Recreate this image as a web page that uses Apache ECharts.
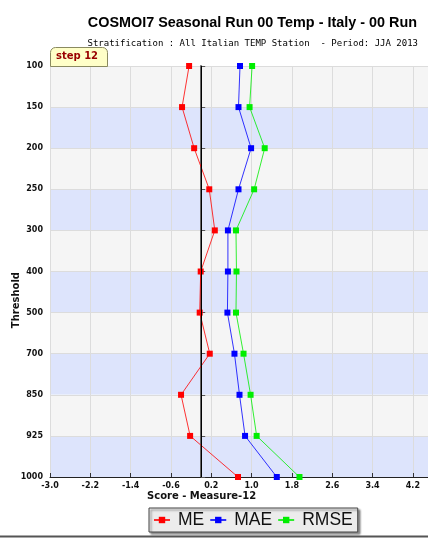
<!DOCTYPE html>
<html><head><meta charset="utf-8">
<script src="https://cdn.jsdelivr.net/npm/echarts@6/dist/echarts.min.js"></script>
<style>html,body{margin:0;padding:0;background:#fff}#c{width:428px;height:538px}</style>
</head><body><div id="c"></div>
<script>
var thresholds = ['100','150','200','250','300','400','500','700','850','925','1000'];
var meValues   = [-0.24,-0.38,-0.14,0.16,0.27,-0.01,-0.03,0.17,-0.40,-0.22,0.73];
var maeValues  = [0.77,0.74,0.99,0.74,0.53,0.53,0.52,0.66,0.76,0.87,1.50];
var rmseValues = [1.01,0.96,1.26,1.05,0.69,0.70,0.69,0.84,0.98,1.10,1.95];
var seriesNames = ['ME','MAE','RMSE'];
var xMin = -3.0, xMax = 4.5, xStep = 0.8;

var chart = echarts.init(document.getElementById('c'));
var bold8 = {fontFamily:'DejaVu Sans, sans-serif', fontWeight:'bold', fontSize:8, color:'#111'};
function mk(name, data, color, withMark){
  var s = {
    name:name, type:'line', data:data, symbol:'rect', symbolSize:6,
    itemStyle:{color:color}, lineStyle:{color:color, width:1, opacity:0.8},
    animation:false
  };
  if (withMark) {
    s.markLine = {silent:true, symbol:'none', label:{show:false},
      lineStyle:{color:'#000', width:1, type:'solid'}, data:[{xAxis:0}], animation:false};
  }
  return s;
}
chart.setOption({
  animation:false,
  backgroundColor:'#fff',
  grid:{left:50, right:0, top:66, bottom:61},
  xAxis:{type:'value', min:xMin, max:xMax, interval:xStep,
    axisLine:{show:true, onZero:false, lineStyle:{color:'#222', width:1}},
    axisTick:{show:true, inside:true, length:4, lineStyle:{color:'#333'}},
    axisLabel:Object.assign({margin:5, showMaxLabel:false, formatter:function(v){return v.toFixed(1);}}, bold8),
    splitLine:{show:true, lineStyle:{color:'#dcdcdc'}}
  },
  yAxis:{type:'category', data:thresholds, inverse:true, boundaryGap:false,
    axisLine:{show:true, lineStyle:{color:'#666', width:2}},
    axisTick:{show:true, inside:true, length:4, lineStyle:{color:'#555'}},
    axisLabel:Object.assign({margin:7}, bold8),
    splitLine:{show:true, lineStyle:{color:'#dcdcdc'}},
    splitArea:{show:true, areaStyle:{color:['#f5f5f5','#dde4fc']}}
  },
  legend:{data:seriesNames, left:149, top:508, orient:'horizontal',
    backgroundColor:'#ececec', borderColor:'#444', borderWidth:1, borderRadius:0,
    padding:[3,5,3,4], itemGap:5, itemWidth:16, itemHeight:8,
    shadowBlur:2, shadowOffsetX:2, shadowOffsetY:2, shadowColor:'rgba(0,0,0,0.45)',
    textStyle:{fontFamily:'Liberation Sans, Arial, sans-serif', fontSize:17.5, color:'#111', padding:[0,0,0,3]}
  },
  series:[
    mk(seriesNames[0], meValues, '#ff0000', true),
    mk(seriesNames[1], maeValues, '#0000ff', false),
    mk(seriesNames[2], rmseValues, '#00ee00', false)
  ],
  graphic:[
    {type:'text', right:11, top:16, style:{text:'COSMOI7 Seasonal Run 00 Temp - Italy - 00 Run',
      font:'bold 14.4px Liberation Sans, Arial, sans-serif', fill:'#000'}},
    {type:'text', right:10, top:39, style:{text:'Stratification : All Italian TEMP Station  - Period: JJA 2013',
      font:'9px DejaVu Sans Mono, monospace', fill:'#000'}},
    {type:'rect', left:50, top:47, shape:{width:57, height:19, r:[5,5,0,0]},
      style:{fill:'#ffffc8', stroke:'#8a8a60', lineWidth:1}, z:100},
    {type:'text', left:56, top:51, style:{text:'step 12', font:'bold 10px DejaVu Sans, sans-serif', fill:'#990000'}, z:101},
    {type:'text', left:11, top:272, rotation:Math.PI/2, style:{text:'Threshold',
      font:'bold 10px DejaVu Sans, sans-serif', fill:'#111'}},
    {type:'text', left:147, top:491, style:{text:'Score - Measure-12',
      font:'bold 10px DejaVu Sans, sans-serif', fill:'#111'}},
    {type:'line', shape:{x1:0, y1:536.5, x2:428, y2:536.5}, style:{stroke:'#555', lineWidth:2}}
  ]
});
</script></body></html>
